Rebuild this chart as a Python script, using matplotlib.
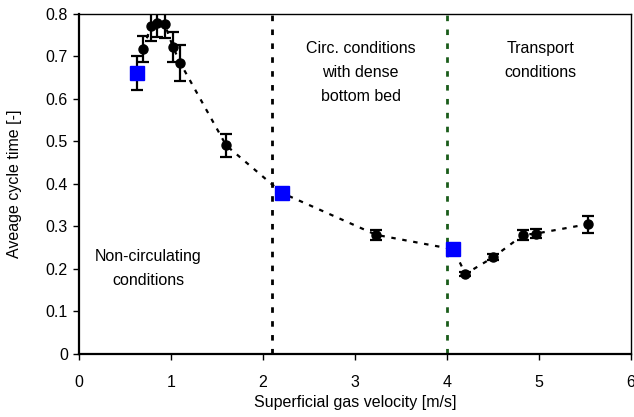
import matplotlib
matplotlib.use("Agg")
import matplotlib.pyplot as plt
import numpy as np

plt.rcParams['font.family'] = ['Liberation Sans', 'DejaVu Sans']

# Measured cycle times (black circles) with standard deviation
vel_meas = [0.70, 0.78, 0.85, 0.93, 1.02, 1.10, 1.60, 3.23, 4.20, 4.50, 4.83, 4.97, 5.53]
cycle_meas = [0.717, 0.770, 0.777, 0.776, 0.722, 0.684, 0.490, 0.280, 0.188, 0.227, 0.280, 0.283, 0.305]
err_meas = [0.030, 0.035, 0.032, 0.033, 0.035, 0.043, 0.027, 0.012, 0.005, 0.007, 0.012, 0.010, 0.020]

# Regime transition points (blue squares)
vel_trans = [0.63, 2.21, 4.07]
cycle_trans = [0.660, 0.378, 0.246]
err_trans = [0.040, 0.0, 0.0]

# Regime boundaries
bound_circ = 2.1
bound_transport = 4.0

fig = plt.figure(figsize=(6.34, 4.17), dpi=100)
ax = fig.add_axes([0.1246, 0.1511, 0.8707, 0.8165])

# Trend line through all points ordered by velocity
all_v = np.array(vel_meas + vel_trans)
all_c = np.array(cycle_meas + cycle_trans)
order = np.argsort(all_v)
trend_v = all_v[order][1:]
trend_c = all_c[order][1:]
ax.plot(trend_v, trend_c, linestyle=(0, (2, 3)), color='black', lw=1.6, zorder=2)

ax.axvline(bound_circ, color='black', linestyle=(0, (2, 3)), lw=2.0, zorder=1)
ax.axvline(bound_transport, color='#1a5c1a', linestyle=(0, (2, 3)), lw=2.0, zorder=1)

ax.errorbar(vel_meas, cycle_meas, yerr=err_meas, fmt='o', color='black',
            ms=6.5, elinewidth=1.6, capsize=4.5, capthick=1.6, zorder=4)
ax.errorbar(vel_trans, cycle_trans, yerr=err_trans, fmt='none', ecolor='black',
            elinewidth=1.6, capsize=4.5, capthick=1.6, zorder=3)
ax.plot(vel_trans, cycle_trans, 's', color='#0000ff', ms=10, zorder=5)

ax.set_xlim(0, 6)
ax.set_ylim(0, 0.8)
ax.set_xticks(range(0, 7))
ax.set_yticks(np.arange(0, 0.81, 0.1))
ax.set_yticklabels(['0', '0.1', '0.2', '0.3', '0.4', '0.5', '0.6', '0.7', '0.8'])

for side in ['left', 'bottom']:
    ax.spines[side].set_linewidth(1.6)
for side in ['top', 'right']:
    ax.spines[side].set_linewidth(1.0)
ax.tick_params(axis='both', direction='out', length=4, width=1.0, labelsize=11.5)
ax.tick_params(axis='x', pad=11)
ax.tick_params(axis='y', pad=4)

ax.set_xlabel('Superficial gas velocity [m/s]', fontsize=11.5, labelpad=4)
ax.set_ylabel('Aveage cycle time [-]', fontsize=11.5, labelpad=17)

ax.text(0.75, 0.20, 'Non-circulating\nconditions', ha='center', va='center',
        fontsize=11.5, linespacing=1.75)
ax.text(3.06, 0.662, 'Circ. conditions\nwith dense\nbottom bed', ha='center', va='center',
        fontsize=11.5, linespacing=1.75)
ax.text(5.02, 0.689, 'Transport\nconditions', ha='center', va='center',
        fontsize=11.5, linespacing=1.75)

fig.savefig('out.png', dpi=100)
